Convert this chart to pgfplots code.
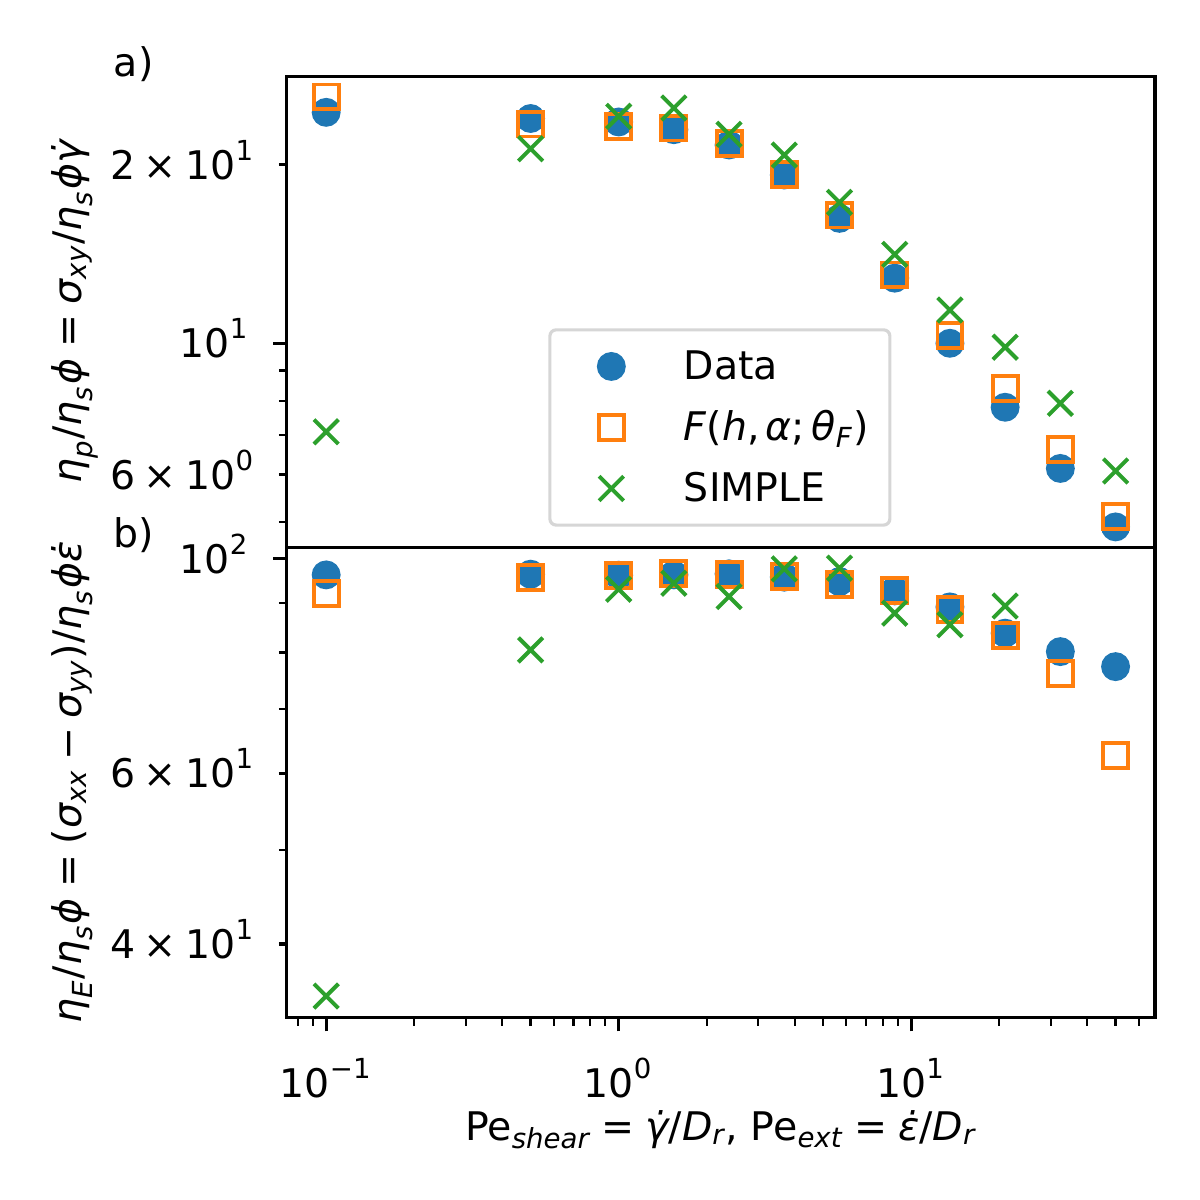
\documentclass[border=0pt]{standalone}
\usepackage{fontspec}
\setmainfont{DejaVu Sans}
\usepackage{amsmath}
\usepackage{pgfplots}
\usepackage{pgfplotstable}
\pgfplotsset{compat=1.18}
\definecolor{c0}{HTML}{1F77B4}
\definecolor{c1}{HTML}{FF7F0E}
\definecolor{c2}{HTML}{2CA02C}
\newcommand\mi[1]{\text{\itshape #1}}
\newcommand\mr[1]{\text{#1}}
\newcommand\pw[1]{\ensuremath{\mr{10}^{\mr{#1}}}}
\newcommand\sci[2]{\ensuremath{\mr{#1}\mathbin{\mr{×}}\mr{10}^{\mr{#2}}}}
\newcommand\fs{\fontsize{9.5}{11.4}\selectfont}

\pgfplotstableread{
x Data F SIMPLE
0.1      24.53 26.04 7.09
0.5      23.95 23.44 21.30
1        23.63 23.23 24.15
1.544452 22.93 23.08 24.95
2.385332 21.61 21.75 22.52
3.684031 19.23 19.28 20.78
5.689810 16.25 16.46 17.29
8.787639 12.88 13.04 14.13
13.57209 10.00 10.30 11.38
20.96144 7.80  8.40  9.85
32.37394 6.15  6.63  7.92
50       4.90  5.10  6.09
}\shear
\pgfplotstableread{
x Data F SIMPLE
0.1      96.26 92.17 35.34
0.5      96.42 95.74 80.53
1        96.19 96.04 93.04
1.544452 96.26 96.66 94.38
2.385332 96.50 96.42 91.42
3.684031 95.74 95.87 97.65
5.689810 94.74 94.16 97.81
8.787639 92.66 92.66 87.87
13.57209 89.20 88.70 85.50
20.96144 83.80 83.40 89.40
32.37394 80.20 76.20 nan
50       77.40 62.70 nan
}\ext

\begin{document}
\begin{tikzpicture}
\useasboundingbox (0,0) rectangle (289.08pt,289.08pt);
\begin{axis}[
  scale only axis, width=209.17pt,
  xmode=log, ymode=log, xmin=0.0733, xmax=68.2,
  axis line style={line width=0.76pt},
  tick align=outside, tick pos=left,
  major tick length=3.3pt, minor tick length=1.9pt,
  tick style={black, line width=0.76pt},
  minor tick style={line width=0.57pt},
  font=\fs,
  yticklabel style={anchor=base east, inner sep=0pt, yshift=-3.46pt, xshift=-5.47pt},
  ylabel style={at={(axis description cs:-0.2358,0.5)}, rotate=0, anchor=base, font=\fs},
  unbounded coords=discard,
  clip=false,
  name=top, at={(69.066pt,157.14pt)}, anchor=south west,
  height=113.47pt, ymin=4.52, ymax=28.18,
  xmajorticks=false, xminorticks=false,
  ytick={10}, yticklabels={\pw{1}},
  minor ytick={5,6,7,8,9,20},
  extra y ticks={6,20}, extra y tick labels={\sci{6}{0},\sci{2}{1}},
  extra y tick style={major tick length=1.9pt},
  ylabel={$\mi{η}_{\mi{p}}\mr{/}\mi{η}_{\mi{s}}\mi{ϕ}\mathrel{\mr{=}}\mi{σ}_{\mi{xy}}\mr{/}\mi{η}_{\mi{s}}\mi{ϕγ̇}$},
  legend style={at={(axis description cs:0.3013,0.4658)}, anchor=north west,
    draw=black!16, line width=0.76pt, rounded corners=1.5pt, fill=white,
    font=\fs, inner xsep=5pt, inner ysep=3pt, row sep=3.07pt,
    nodes={inner sep=0pt, text height=8.89pt, text depth=2.74pt},
    /tikz/every odd column/.append style={column sep=13.5pt},
    cells={anchor=west}},
  legend image code/.code={\path[draw=none,fill=none] (-9.8pt,-3.46pt) rectangle (4pt,4.54pt); \draw[#1] plot coordinates {(0pt,0pt)};},
]
\addplot[only marks, mark=*, mark size=3pt, color=c0, mark options={line width=0.95pt, draw=c0, fill=c0}] table[x=x, y=Data] {\shear};
\addlegendentry{Data}
\addplot[only marks, mark=square, mark size=3pt, color=c1, mark options={line width=0.95pt, draw=c1, fill=none}] table[x=x, y=F] {\shear};
\addlegendentry{$\mi{F}\mr{(}\mi{h}\mathpunct{\mr{,}}\mi{α}\mathpunct{\mr{;}}\mi{θ}_{\mi{F}}\mr{)}$}
\addplot[only marks, mark=x, mark size=4.17pt, color=c2, mark options={line width=0.95pt, draw=c2}] table[x=x, y=SIMPLE] {\shear};
\addlegendentry{SIMPLE}
\end{axis}
\begin{axis}[
  scale only axis, width=209.17pt,
  xmode=log, ymode=log, xmin=0.0733, xmax=68.2,
  axis line style={line width=0.76pt},
  tick align=outside, tick pos=left,
  major tick length=3.3pt, minor tick length=1.9pt,
  tick style={black, line width=0.76pt},
  minor tick style={line width=0.57pt},
  font=\fs,
  yticklabel style={anchor=base east, inner sep=0pt, yshift=-3.46pt, xshift=-5.47pt},
  xticklabel style={anchor=north, inner sep=0pt, yshift=-6.3pt},
  ylabel style={at={(axis description cs:-0.2358,0.5)}, rotate=0, anchor=base, font=\fs},
  unbounded coords=discard,
  clip=false,
  name=bot, at={(69.066pt,43.92pt)}, anchor=south west,
  height=113.22pt, ymin=33.57, ymax=102.7,
  xtick={0.1,1,10}, xticklabels={\pw{−1},\pw{0},\pw{1}},
  minor xtick={0.08,0.09,0.2,0.3,0.4,0.5,0.6,0.7,0.8,0.9,2,3,4,5,6,7,8,9,20,30,40,50,60},
  ytick={100}, yticklabels={\pw{2}},
  minor ytick={40,50,60,70,80,90},
  extra y ticks={40,60}, extra y tick labels={\sci{4}{1},\sci{6}{1}},
  extra y tick style={major tick length=1.9pt},
  ylabel={$\mi{η}_{\mi{E}}\mr{/}\mi{η}_{\mi{s}}\mi{ϕ}\mathrel{\mr{=}}\mr{(}\mi{σ}_{\mi{xx}}\mathbin{\mr{−}}\mi{σ}_{\mi{yy}}\mr{)}\mr{/}\mi{η}_{\mi{s}}\mi{ϕε̇}$},
  xlabel={$\mr{Pe}_{\mi{shear}}\mathrel{\mr{=}}\mi{γ̇}\mr{/}\mi{D}_{\mi{r}}\mr{, }\mr{Pe}_{\mi{ext}}\mathrel{\mr{=}}\mi{ε̇}\mr{/}\mi{D}_{\mi{r}}$},
  xlabel style={at={(axis description cs:0.5,0)}, anchor=base, yshift=-29.6pt, font=\fs},
]
\addplot[only marks, mark=*, mark size=3pt, color=c0, mark options={line width=0.95pt, draw=c0, fill=c0}] table[x=x, y=Data] {\ext};
\addplot[only marks, mark=square, mark size=3pt, color=c1, mark options={line width=0.95pt, draw=c1, fill=none}] table[x=x, y=F] {\ext};
\addplot[only marks, mark=x, mark size=4.17pt, color=c2, mark options={line width=0.95pt, draw=c2}] table[x=x, y=SIMPLE] {\ext};
\end{axis}
\node[anchor=base west, font=\fs, inner sep=0pt] at ([xshift=-41.83pt]top.north west) {a)};
\node[anchor=base west, font=\fs, inner sep=0pt] at ([xshift=-41.83pt]bot.north west) {b)};
\end{tikzpicture}
\end{document}
